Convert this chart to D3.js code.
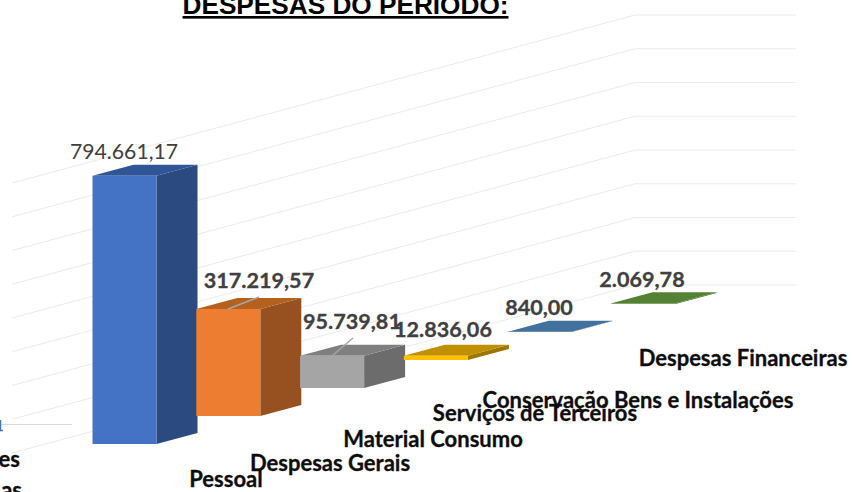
<!DOCTYPE html>
<html><head><meta charset="utf-8">
<script src="https://cdn.jsdelivr.net/npm/d3@7/dist/d3.min.js"></script>
<style>html,body{margin:0;padding:0;background:#fff;overflow:hidden}svg{display:block}</style>
</head><body><div id="c"></div>
<script>
const categories = ["Pessoal","Despesas Gerais","Material Consumo","Serviços de Terceiros","Conservação Bens e Instalações","Despesas Financeiras"];
const values = [794661.17,317219.57,95739.81,12836.06,840.00,2069.78];
const valueLabels = ["794.661,17","317.219,57","95.739,81","12.836,06","840,00","2.069,78"];
const gridTicks = [0,100000,200000,300000,400000,500000,600000,700000,800000];

const frontColors = ["#4472c4","#ed7d31","#a5a5a5","#ffc000","#4a7eb0","#5f9038"];
const topColors = ["#2f5597","#b5601f","#7f7f7f","#bf9000","#41719c","#548235"];
const sideColors = ["#2a4a80","#97501f","#6c6c6c","#9c7600","#37608a","#466e2c"];

// layout only: label anchors (x centre, baseline)
const valueLabelAt = [[124,159],[259,288],[352,329],[443,337],[539,315],[642,287]];
const catLabelAt = [[226,487],[330,471],[433,447],[535,421],[638,408],[743,366]];
const leaders = [null,[[228,309],[259,297]],[[332,356],[353,338]],null,null,null];

const W=852,H=492;
const svg=d3.select("#c").append("svg").attr("width",W).attr("height",H);

const idx=categories.map((d,i)=>i);
const xBase=d3.scaleLinear().domain([0,5]).range([92.5,611.5]);
const yBase=d3.scaleLinear().domain([0,5]).range([444,304]);
const hScale=d3.scaleLinear().domain([0,800000]).range([0,270]);
const gridRight=d3.scaleLinear().domain([0,800000]).range([285,15]);
const barW=64,depthX=41,depthY=-11;
const cornerX=635,endX=796,startX=12,slantDrop=168;

const grid=svg.append("g").attr("fill","none").attr("stroke","#ebebeb").attr("stroke-width",1.1);
grid.selectAll("path").data(gridTicks).join("path")
  .attr("d",d=>{const y=gridRight(d);return d3.line()([[startX,y+slantDrop],[cornerX,y],[endX,y]]);});

// clipped neighbour category at the far left edge
svg.append("line").attr("x1",0).attr("x2",72).attr("y1",424.5).attr("y2",424.5).attr("stroke","#d9d9d9").attr("stroke-width",1.2);
svg.append("path").attr("d","M0.5,420V430.5H3").attr("fill","none").attr("stroke","#4472c4").attr("stroke-width",1.4);

const bars=svg.append("g").selectAll("g").data(idx).join("g");
const poly=pts=>d3.line()(pts)+"Z";
bars.append("path").attr("fill",i=>sideColors[i]).attr("d",i=>{
  const x=xBase(i)+barW,b=yBase(i),t=b-hScale(values[i]);
  return poly([[x,b],[x+depthX,b+depthY],[x+depthX,t+depthY],[x,t]]);});
bars.append("path").attr("fill",i=>topColors[i]).attr("d",i=>{
  const x=xBase(i),t=yBase(i)-hScale(values[i]);
  return poly([[x,t],[x+barW,t],[x+barW+depthX,t+depthY],[x+depthX,t+depthY]]);});
bars.append("rect").attr("fill",i=>frontColors[i])
  .attr("x",i=>xBase(i)).attr("width",barW)
  .attr("y",i=>yBase(i)-hScale(values[i])).attr("height",i=>hScale(values[i]));

svg.append("g").selectAll("path").data(leaders.filter(Boolean)).join("path")
  .attr("d",d=>d3.line()(d)).attr("stroke","#a6a6a6").attr("stroke-width",1.5).attr("fill","none");

const font="Lato, Carlito, Calibri, sans-serif";
svg.append("g").selectAll("text").data(idx).join("text")
  .attr("x",i=>valueLabelAt[i][0]).attr("y",i=>valueLabelAt[i][1])
  .attr("text-anchor","middle").attr("font-family",font)
  .attr("font-size",i=>i===0?21.2:21.6)
  .attr("font-weight",i=>i===0?400:700).attr("fill","#404040")
  .attr("stroke",i=>i===0?"none":"#404040").attr("stroke-width",0.3)
  .text(i=>valueLabels[i]);

svg.append("g").selectAll("text").data(idx).join("text")
  .attr("x",i=>catLabelAt[i][0]).attr("y",i=>catLabelAt[i][1])
  .attr("text-anchor","middle").attr("font-family",font).attr("font-size",22)
  .attr("font-weight",700).attr("fill","#0d0d0d").attr("stroke","#0d0d0d").attr("stroke-width",0.3)
  .text(i=>categories[i]);

// category text cut off by the left and bottom edges
svg.append("text").attr("x",20).attr("y",467).attr("text-anchor","end").attr("font-family",font).attr("font-size",22).attr("font-weight",700).attr("fill","#0d0d0d").attr("stroke","#0d0d0d").attr("stroke-width",0.3).text("es");
svg.append("text").attr("x",22).attr("y",498).attr("text-anchor","end").attr("font-family",font).attr("font-size",22).attr("font-weight",700).attr("fill","#0d0d0d").attr("stroke","#0d0d0d").attr("stroke-width",0.3).text("as");

svg.append("text").attr("x",345.5).attr("y",14).attr("text-anchor","middle")
  .attr("font-family","'Liberation Sans', Arial, sans-serif").attr("font-size",26.2).attr("font-weight",700)
  .attr("fill","#000").attr("text-decoration","underline")
  .style("text-decoration-thickness","3px").style("text-underline-offset","3px")
  .text("DESPESAS DO PERÍODO:");
</script></body></html>
